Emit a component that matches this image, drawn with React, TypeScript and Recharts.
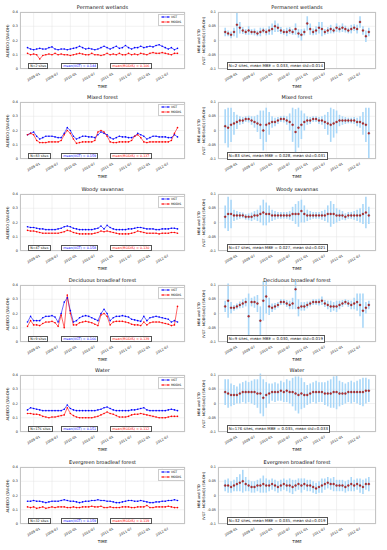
import React from "react";
import {
  ComposedChart,
  Line,
  Scatter,
  ErrorBar,
  XAxis,
  YAxis,
  CartesianGrid,
} from "recharts";

// monthly samples, Nov 2008 .. Dec 2012
const DATES = [
  "2008-11", "2008-12",
  "2009-01", "2009-02", "2009-03", "2009-04", "2009-05", "2009-06", "2009-07", "2009-08", "2009-09", "2009-10", "2009-11", "2009-12",
  "2010-01", "2010-02", "2010-03", "2010-04", "2010-05", "2010-06", "2010-07", "2010-08", "2010-09", "2010-10", "2010-11", "2010-12",
  "2011-01", "2011-02", "2011-03", "2011-04", "2011-05", "2011-06", "2011-07", "2011-08", "2011-09", "2011-10", "2011-11", "2011-12",
  "2012-01", "2012-02", "2012-03", "2012-04", "2012-05", "2012-06", "2012-07", "2012-08", "2012-09", "2012-10", "2012-11", "2012-12",
];
const TICK_LABELS = ["2009-01", "2009-07", "2010-01", "2010-07", "2011-01", "2011-07", "2012-01", "2012-07"];

const TITLES = ["Permanent wetlands", "Mixed forest", "Woody savannas", "Deciduous broadleaf forest", "Water", "Evergreen broadleaf forest"];
const SITES = [2, 83, 47, 9, 176, 32];
const MEAN_VGT = ["0.144", "0.159", "0.158", "0.166", "0.151", "0.159"];
const MEAN_MODIS = ["0.106", "0.137", "0.130", "0.139", "0.112", "0.119"];
const MEAN_MBE = ["0.033", "0.028", "0.027", "0.030", "0.035", "0.035"];
const MEAN_STD = ["0.014", "0.031", "0.021", "0.019", "0.033", "0.019"];

// Permanent wetlands
const VGT_WETLANDS = [
  0.15, 0.14, 0.135, 0.14, 0.145, 0.14, 0.14, 0.15, 0.155, 0.14,
  0.135, 0.14, 0.14, 0.135, 0.14, 0.145, 0.15, 0.16, 0.15, 0.14,
  0.145, 0.14, 0.135, 0.14, 0.15, 0.16, 0.15, 0.14, 0.15, 0.16,
  0.145, 0.15, 0.165, 0.15, 0.14, 0.15, 0.15, 0.16, 0.15, 0.155,
  0.16, 0.155, 0.165, 0.17, 0.16, 0.15, 0.14, 0.15, 0.135, 0.145,
];
const MODIS_WETLANDS = [
  0.11, 0.10, 0.105, 0.10, 0.07, 0.095, 0.10, 0.105, 0.10, 0.11,
  0.10, 0.105, 0.10, 0.10, 0.095, 0.10, 0.105, 0.11, 0.105, 0.10,
  0.10, 0.11, 0.10, 0.10, 0.095, 0.10, 0.11, 0.10, 0.105, 0.10,
  0.11, 0.10, 0.10, 0.11, 0.10, 0.105, 0.10, 0.11, 0.105, 0.10,
  0.11, 0.115, 0.11, 0.11, 0.115, 0.11, 0.105, 0.10, 0.11, 0.11,
];
const MBE_WETLANDS = [
  0.03, 0.025, 0.02, 0.03, 0.055, 0.045, 0.035, 0.03, 0.035, 0.03,
  0.03, 0.025, 0.03, 0.035, 0.03, 0.035, 0.04, 0.05, 0.045, 0.035,
  0.03, 0.03, 0.035, 0.03, 0.04, 0.025, 0.02, 0.03, 0.06, 0.04,
  0.03, 0.035, 0.045, 0.04, 0.03, 0.035, 0.04, 0.035, 0.045, 0.04,
  0.045, 0.04, 0.035, 0.04, 0.045, 0.04, 0.065, 0.035, 0.015, 0.03,
];
const STD_WETLANDS = [
  0.015, 0.01, 0.012, 0.015, 0.045, 0.02, 0.012, 0.01, 0.015, 0.01,
  0.012, 0.01, 0.015, 0.01, 0.012, 0.015, 0.02, 0.02, 0.015, 0.012,
  0.01, 0.015, 0.012, 0.01, 0.02, 0.015, 0.02, 0.012, 0.025, 0.02,
  0.012, 0.015, 0.02, 0.025, 0.01, 0.012, 0.015, 0.01, 0.015, 0.012,
  0.015, 0.012, 0.01, 0.015, 0.012, 0.015, 0.02, 0.015, 0.02, 0.015,
];

// Mixed forest
const VGT_MIXED = [
  0.17, 0.18, 0.19, 0.16, 0.14, 0.15, 0.16, 0.16, 0.16, 0.155,
  0.15, 0.15, 0.18, 0.22, 0.20, 0.16, 0.14, 0.15, 0.16, 0.16,
  0.155, 0.155, 0.15, 0.17, 0.19, 0.18, 0.17, 0.15, 0.14, 0.15,
  0.16, 0.155, 0.155, 0.15, 0.15, 0.16, 0.18, 0.17, 0.16, 0.14,
  0.15, 0.16, 0.16, 0.155, 0.155, 0.155, 0.15, 0.15, 0.17, 0.155,
];
const MODIS_MIXED = [
  0.17, 0.18, 0.17, 0.13, 0.115, 0.115, 0.115, 0.12, 0.12, 0.12,
  0.12, 0.13, 0.17, 0.20, 0.18, 0.14, 0.11, 0.115, 0.12, 0.12,
  0.12, 0.12, 0.13, 0.19, 0.20, 0.19, 0.16, 0.12, 0.115, 0.115,
  0.12, 0.12, 0.12, 0.12, 0.13, 0.16, 0.17, 0.15, 0.12, 0.115,
  0.12, 0.12, 0.12, 0.12, 0.12, 0.12, 0.12, 0.13, 0.18, 0.22,
];
const MBE_MIXED = [
  0.015, 0.01, 0.02, 0.025, 0.03, 0.035, 0.035, 0.04, 0.04, 0.035,
  0.03, 0.025, 0.02, 0.0, 0.02, 0.025, 0.03, 0.03, 0.035, 0.04,
  0.04, 0.035, 0.03, 0.02, -0.005, 0.01, 0.02, 0.03, 0.035, 0.035,
  0.04, 0.04, 0.035, 0.035, 0.03, 0.025, 0.02, 0.025, 0.03, 0.035,
  0.035, 0.035, 0.035, 0.035, 0.035, 0.03, 0.03, 0.025, 0.02, -0.01,
];
const STD_MIXED = [
  0.06, 0.07, 0.06, 0.04, 0.025, 0.015, 0.012, 0.01, 0.012, 0.015,
  0.02, 0.03, 0.05, 0.07, 0.06, 0.04, 0.02, 0.015, 0.012, 0.01,
  0.012, 0.015, 0.03, 0.06, 0.08, 0.07, 0.05, 0.03, 0.015, 0.012,
  0.01, 0.01, 0.012, 0.015, 0.025, 0.04, 0.06, 0.05, 0.04, 0.02,
  0.015, 0.012, 0.01, 0.01, 0.012, 0.015, 0.02, 0.04, 0.06, 0.09,
];

// Woody savannas
const VGT_WOODY = [
  0.17, 0.165, 0.165, 0.16, 0.155, 0.155, 0.15, 0.15, 0.15, 0.15,
  0.155, 0.16, 0.17, 0.175, 0.17, 0.16, 0.155, 0.15, 0.15, 0.15,
  0.15, 0.15, 0.155, 0.16, 0.175, 0.155, 0.18, 0.165, 0.155, 0.15,
  0.15, 0.15, 0.15, 0.155, 0.155, 0.16, 0.165, 0.165, 0.16, 0.155,
  0.155, 0.155, 0.15, 0.15, 0.155, 0.155, 0.155, 0.16, 0.16, 0.155,
];
const MODIS_WOODY = [
  0.145, 0.14, 0.14, 0.135, 0.13, 0.125, 0.125, 0.125, 0.125, 0.125,
  0.125, 0.13, 0.135, 0.145, 0.14, 0.13, 0.125, 0.12, 0.12, 0.12,
  0.12, 0.12, 0.125, 0.13, 0.14, 0.135, 0.14, 0.135, 0.13, 0.125,
  0.12, 0.12, 0.12, 0.12, 0.125, 0.13, 0.14, 0.135, 0.13, 0.125,
  0.125, 0.125, 0.125, 0.12, 0.125, 0.125, 0.125, 0.13, 0.13, 0.125,
];
const MBE_WOODY = [
  0.02, 0.03, 0.03, 0.025, 0.025, 0.025, 0.025, 0.02, 0.02, 0.02,
  0.025, 0.025, 0.03, 0.035, 0.03, 0.03, 0.025, 0.025, 0.025, 0.025,
  0.025, 0.025, 0.025, 0.03, 0.03, 0.03, 0.04, 0.03, 0.025, 0.025,
  0.025, 0.025, 0.025, 0.025, 0.025, 0.03, 0.03, 0.03, 0.025, 0.025,
  0.025, 0.02, 0.025, 0.025, 0.025, 0.025, 0.025, 0.03, 0.035, 0.025,
];
const STD_WOODY = [
  0.04, 0.06, 0.05, 0.02, 0.015, 0.012, 0.01, 0.01, 0.012, 0.015,
  0.015, 0.02, 0.03, 0.045, 0.04, 0.03, 0.02, 0.015, 0.012, 0.012,
  0.012, 0.012, 0.015, 0.025, 0.035, 0.045, 0.04, 0.03, 0.02, 0.015,
  0.012, 0.012, 0.012, 0.015, 0.02, 0.03, 0.045, 0.035, 0.025, 0.02,
  0.015, 0.012, 0.012, 0.012, 0.015, 0.02, 0.025, 0.035, 0.055, 0.03,
];

// Deciduous broadleaf forest
const VGT_DECID = [
  0.14, 0.18, 0.15, 0.15, 0.15, 0.17, 0.18, 0.18, 0.185, 0.175,
  0.14, 0.20, 0.28, 0.31, 0.22, 0.14, 0.15, 0.17, 0.18, 0.185,
  0.18, 0.17, 0.16, 0.15, 0.20, 0.23, 0.20, 0.15, 0.17, 0.18,
  0.18, 0.185, 0.18, 0.175, 0.16, 0.155, 0.15, 0.145, 0.18, 0.15,
  0.17, 0.175, 0.18, 0.175, 0.17, 0.165, 0.16, 0.14, 0.15, 0.14,
];
const MODIS_DECID = [
  0.11, 0.15, 0.12, 0.12, 0.115, 0.13, 0.14, 0.14, 0.145, 0.135,
  0.11, 0.19, 0.10, 0.33, 0.20, 0.12, 0.12, 0.135, 0.14, 0.145,
  0.14, 0.135, 0.125, 0.115, 0.19, 0.20, 0.18, 0.12, 0.14, 0.145,
  0.145, 0.145, 0.14, 0.135, 0.125, 0.12, 0.12, 0.115, 0.14, 0.12,
  0.135, 0.14, 0.14, 0.14, 0.135, 0.13, 0.125, 0.115, 0.12, 0.25,
];
const MBE_DECID = [
  0.025, 0.045, 0.02, 0.02, 0.025, 0.03, 0.035, 0.04, -0.01, 0.04,
  0.04, 0.035, -0.025, 0.045, 0.06, 0.025, 0.02, 0.025, 0.03, 0.04,
  0.04, 0.035, 0.03, 0.035, 0.085, 0.02, 0.025, 0.025, 0.03, 0.035,
  0.04, 0.04, 0.04, 0.045, 0.035, 0.03, 0.025, 0.025, 0.025, 0.03,
  0.035, 0.04, 0.035, 0.03, 0.035, 0.04, 0.03, 0.01, 0.02, 0.03,
];
const STD_DECID = [
  0.02, 0.06, 0.02, 0.01, 0.01, 0.012, 0.015, 0.015, 0.08, 0.015,
  0.02, 0.03, 0.05, 0.07, 0.06, 0.03, 0.015, 0.012, 0.01, 0.01,
  0.01, 0.012, 0.015, 0.02, 0.07, 0.03, 0.015, 0.015, 0.012, 0.01,
  0.01, 0.01, 0.012, 0.015, 0.012, 0.015, 0.02, 0.015, 0.02, 0.015,
  0.012, 0.01, 0.012, 0.015, 0.02, 0.03, 0.04, 0.06, 0.02, 0.015,
];

// Water
const VGT_WATER = [
  0.155, 0.17, 0.165, 0.16, 0.155, 0.15, 0.15, 0.15, 0.15, 0.15,
  0.15, 0.15, 0.16, 0.19, 0.165, 0.155, 0.15, 0.15, 0.15, 0.15,
  0.15, 0.15, 0.15, 0.155, 0.16, 0.17, 0.175, 0.165, 0.155, 0.15,
  0.15, 0.15, 0.15, 0.15, 0.155, 0.155, 0.16, 0.165, 0.17, 0.155,
  0.15, 0.15, 0.15, 0.15, 0.15, 0.15, 0.155, 0.16, 0.155, 0.15,
];
const MODIS_WATER = [
  0.13, 0.13, 0.125, 0.125, 0.12, 0.11, 0.105, 0.10, 0.105, 0.105,
  0.11, 0.115, 0.12, 0.17, 0.13, 0.115, 0.105, 0.10, 0.10, 0.10,
  0.10, 0.10, 0.105, 0.11, 0.12, 0.13, 0.14, 0.13, 0.125, 0.115,
  0.105, 0.105, 0.105, 0.11, 0.12, 0.125, 0.125, 0.13, 0.125, 0.12,
  0.115, 0.11, 0.105, 0.10, 0.10, 0.10, 0.105, 0.11, 0.11, 0.11,
];
const MBE_WATER = [
  0.04, 0.035, 0.03, 0.03, 0.03, 0.035, 0.04, 0.04, 0.04, 0.04,
  0.04, 0.035, 0.035, 0.02, 0.03, 0.035, 0.04, 0.04, 0.04, 0.045,
  0.04, 0.045, 0.04, 0.04, 0.035, 0.03, 0.035, 0.03, 0.03, 0.035,
  0.04, 0.04, 0.04, 0.04, 0.035, 0.035, 0.035, 0.04, 0.04, 0.035,
  0.035, 0.035, 0.04, 0.04, 0.04, 0.04, 0.04, 0.04, 0.045, 0.045,
];
const STD_WATER = [
  0.045, 0.05, 0.04, 0.035, 0.03, 0.035, 0.035, 0.04, 0.035, 0.04,
  0.045, 0.05, 0.07, 0.065, 0.045, 0.035, 0.03, 0.035, 0.03, 0.035,
  0.035, 0.04, 0.04, 0.05, 0.06, 0.065, 0.055, 0.045, 0.035, 0.035,
  0.035, 0.04, 0.035, 0.035, 0.04, 0.045, 0.05, 0.055, 0.06, 0.045,
  0.04, 0.035, 0.035, 0.04, 0.035, 0.04, 0.045, 0.05, 0.045, 0.04,
];

// Evergreen broadleaf forest
const VGT_EVERGREEN = [
  0.16, 0.16, 0.165, 0.16, 0.16, 0.155, 0.15, 0.155, 0.16, 0.16,
  0.16, 0.165, 0.17, 0.165, 0.16, 0.16, 0.155, 0.15, 0.155, 0.16,
  0.16, 0.165, 0.165, 0.17, 0.165, 0.165, 0.16, 0.16, 0.155, 0.15,
  0.15, 0.155, 0.16, 0.165, 0.165, 0.16, 0.16, 0.165, 0.16, 0.155,
  0.15, 0.15, 0.155, 0.155, 0.16, 0.16, 0.165, 0.165, 0.17, 0.165,
];
const MODIS_EVERGREEN = [
  0.12, 0.115, 0.12, 0.11, 0.115, 0.12, 0.11, 0.115, 0.12, 0.115,
  0.12, 0.12, 0.12, 0.115, 0.115, 0.12, 0.115, 0.115, 0.12, 0.12,
  0.12, 0.125, 0.12, 0.12, 0.125, 0.115, 0.115, 0.12, 0.115, 0.115,
  0.115, 0.12, 0.12, 0.12, 0.115, 0.115, 0.12, 0.12, 0.12, 0.13,
  0.115, 0.115, 0.12, 0.12, 0.12, 0.12, 0.125, 0.12, 0.115, 0.115,
];
const MBE_EVERGREEN = [
  0.035, 0.035, 0.03, 0.035, 0.04, 0.045, 0.05, 0.04, 0.035, 0.03,
  0.03, 0.035, 0.035, 0.04, 0.035, 0.035, 0.04, 0.035, 0.03, 0.035,
  0.04, 0.035, 0.035, 0.03, 0.035, 0.04, 0.035, 0.04, 0.035, 0.035,
  0.03, 0.025, 0.03, 0.035, 0.04, 0.045, 0.04, 0.04, 0.035, 0.035,
  0.035, 0.03, 0.035, 0.04, 0.035, 0.04, 0.035, 0.03, 0.04, 0.04,
];
const STD_EVERGREEN = [
  0.02, 0.025, 0.02, 0.02, 0.025, 0.03, 0.04, 0.025, 0.02, 0.02,
  0.02, 0.02, 0.025, 0.03, 0.025, 0.02, 0.02, 0.02, 0.02, 0.02,
  0.02, 0.02, 0.025, 0.025, 0.02, 0.02, 0.025, 0.02, 0.02, 0.02,
  0.02, 0.02, 0.02, 0.025, 0.02, 0.02, 0.02, 0.025, 0.02, 0.02,
  0.02, 0.02, 0.02, 0.025, 0.02, 0.02, 0.025, 0.025, 0.02, 0.025,
];

const VGT = [VGT_WETLANDS, VGT_MIXED, VGT_WOODY, VGT_DECID, VGT_WATER, VGT_EVERGREEN];
const MODIS = [MODIS_WETLANDS, MODIS_MIXED, MODIS_WOODY, MODIS_DECID, MODIS_WATER, MODIS_EVERGREEN];
const MBE = [MBE_WETLANDS, MBE_MIXED, MBE_WOODY, MBE_DECID, MBE_WATER, MBE_EVERGREEN];
const STD = [STD_WETLANDS, STD_MIXED, STD_WOODY, STD_DECID, STD_WATER, STD_EVERGREEN];

// layout
const FONT = "'DejaVu Sans', sans-serif";
const BLUE = "#0000ff";
const RED = "#ff0000";
const DOT = "#c0282d";
const BAR = "#a9d7f8";
const ROW_TOPS = [12, 102, 194, 285, 375, 467];
const PLOT_H = 57;
const MT = 4;
const XH = 16;
const X_DOMAIN = [-4.45, 49.45];
const L_LEFT = 20, L_W = 165;
const R_LEFT = 218, R_W = 158;

const toMonth = (s: string) => (Number(s.slice(0, 4)) - 2009) * 12 + Number(s.slice(5, 7)) - 1;
const TICK_POS = TICK_LABELS.map(toMonth);

const TimeTick = (props: any) => {
  const { x, y, payload } = props;
  const i = TICK_POS.indexOf(payload.value);
  const cy = y + 8;
  return (
    <text
      x={x}
      y={cy}
      textAnchor="middle"
      dominantBaseline="central"
      fontSize={3.4}
      fill="#222"
      fontFamily={FONT}
      transform={`rotate(-30 ${x} ${cy})`}
    >
      {TICK_LABELS[i]}
    </text>
  );
};

const tickStyle = { fontSize: 3.4, fill: "#222", fontFamily: FONT };

const boxStyle = (left: number, top: number, color: string, size: number): React.CSSProperties => ({
  position: "absolute",
  left,
  top,
  fontSize: size,
  lineHeight: `${size + 1.6}px`,
  padding: "0 1.2px",
  border: "0.6px solid #555",
  background: "#fff",
  color,
  fontFamily: FONT,
  whiteSpace: "nowrap",
});

function Frame({ left, top, width }: { left: number; top: number; width: number }) {
  return (
    <div
      style={{
        position: "absolute",
        left,
        top,
        width,
        height: PLOT_H,
        border: "0.6px solid #c4c4c4",
        boxSizing: "border-box",
        pointerEvents: "none",
      }}
    />
  );
}

function Title({ left, width, top, text }: { left: number; width: number; top: number; text: string }) {
  return (
    <div
      style={{
        position: "absolute",
        left,
        width,
        top: top - 8.5,
        height: 7,
        lineHeight: "7px",
        fontSize: 5,
        textAlign: "center",
        fontFamily: FONT,
        color: "#111",
        whiteSpace: "nowrap",
      }}
    >
      {text}
    </div>
  );
}

function LeftPanel({ row }: { row: number }) {
  const top = ROW_TOPS[row];
  const data = DATES.map((d, i) => ({ t: toMonth(d), vgt: VGT[row][i], modis: MODIS[row][i] }));
  const bottom = top + PLOT_H;
  return (
    <>
      <div style={{ position: "absolute", left: 0, top: top - MT }}>
        <ComposedChart
          width={L_LEFT + L_W + 5}
          height={MT + PLOT_H + XH}
          data={data}
          margin={{ top: MT, right: 5, bottom: 0, left: 0 }}
        >
          <CartesianGrid stroke="#e4e4e4" strokeWidth={0.5} />
          <XAxis
            dataKey="t"
            type="number"
            domain={X_DOMAIN}
            ticks={TICK_POS}
            interval={0}
            height={XH}
            tick={<TimeTick />}
            tickLine={false}
            axisLine={false}
            tickSize={0}
            tickMargin={0}
            allowDataOverflow
          />
          <YAxis
            type="number"
            domain={[0, 0.4]}
            ticks={[0, 0.1, 0.2, 0.3, 0.4]}
            width={L_LEFT}
            tick={tickStyle}
            tickLine={false}
            axisLine={false}
            tickSize={1}
            tickMargin={1}
            interval={0}
          />
          <Line
            dataKey="vgt"
            stroke={BLUE}
            strokeWidth={0.6}
            dot={{ r: 0.8, fill: BLUE, stroke: "none" }}
            activeDot={false}
            isAnimationActive={false}
          />
          <Line
            dataKey="modis"
            stroke={RED}
            strokeWidth={0.6}
            dot={{ r: 0.8, fill: RED, stroke: "none" }}
            activeDot={false}
            isAnimationActive={false}
          />
        </ComposedChart>
      </div>
      <Frame left={L_LEFT} top={top} width={L_W} />
      <Title left={L_LEFT} width={L_W} top={top} text={TITLES[row]} />
      <div
        style={{
          position: "absolute",
          left: 7.5 - 35,
          top: top + PLOT_H / 2 - 3,
          width: 70,
          height: 6,
          lineHeight: "6px",
          fontSize: 3.8,
          textAlign: "center",
          transform: "rotate(-90deg)",
          fontFamily: FONT,
          color: "#111",
        }}
      >
        ALBEDO (SW-DH)
      </div>
      <div
        style={{
          position: "absolute",
          left: L_LEFT + L_W - 27,
          top: top + 1.5,
          width: 25,
          padding: "0.8px 0",
          border: "0.5px solid #ccc",
          background: "#fff",
          fontFamily: FONT,
          fontSize: 3,
          lineHeight: "4.2px",
        }}
      >
        {[
          ["VGT", BLUE],
          ["MODIS", RED],
        ].map(([name, color]) => (
          <div key={name} style={{ display: "flex", alignItems: "center" }}>
            <svg width={9} height={4} style={{ marginLeft: 1.5, marginRight: 1.5 }}>
              <line x1={0} y1={2} x2={9} y2={2} stroke={color} strokeWidth={0.6} />
              <circle cx={2} cy={2} r={0.8} fill={color} />
              <circle cx={7} cy={2} r={0.8} fill={color} />
            </svg>
            <span>{name}</span>
          </div>
        ))}
      </div>
      <div style={boxStyle(28, bottom - 6.5, "#111", 3.3)}>N={SITES[row]} sites</div>
      <div style={boxStyle(61, bottom - 6.5, BLUE, 3.3)}>mean(VGT) = {MEAN_VGT[row]}</div>
      <div style={boxStyle(110, bottom - 6.5, RED, 3.3)}>mean(MODIS) = {MEAN_MODIS[row]}</div>
      <div
        style={{
          position: "absolute",
          left: L_LEFT,
          width: L_W,
          top: bottom + 14.5,
          fontSize: 4,
          lineHeight: "5px",
          textAlign: "center",
          fontFamily: FONT,
          color: "#111",
        }}
      >
        TIME
      </div>
    </>
  );
}

function RightPanel({ row }: { row: number }) {
  const top = ROW_TOPS[row];
  const data = DATES.map((d, i) => ({ t: toMonth(d), mbe: MBE[row][i], std: STD[row][i] }));
  const bottom = top + PLOT_H;
  const chartLeft = 190;
  return (
    <>
      <div style={{ position: "absolute", left: chartLeft, top: top - MT }}>
        <ComposedChart
          width={R_LEFT - chartLeft + R_W + 4}
          height={MT + PLOT_H + XH}
          data={data}
          margin={{ top: MT, right: 4, bottom: 0, left: 0 }}
        >
          <CartesianGrid stroke="#e4e4e4" strokeWidth={0.5} />
          <XAxis
            dataKey="t"
            type="number"
            domain={X_DOMAIN}
            ticks={TICK_POS}
            interval={0}
            height={XH}
            tick={<TimeTick />}
            tickLine={false}
            axisLine={false}
            tickSize={0}
            tickMargin={0}
            allowDataOverflow
          />
          <YAxis
            type="number"
            domain={[-0.1, 0.1]}
            ticks={[-0.1, -0.05, 0, 0.05, 0.1]}
            width={R_LEFT - chartLeft}
            tick={tickStyle}
            tickLine={false}
            axisLine={false}
            tickSize={1}
            tickMargin={1}
            interval={0}
            allowDataOverflow
          />
          <Scatter dataKey="mbe" shape={() => <g />} isAnimationActive={false}>
            <ErrorBar dataKey="std" direction="y" width={0} stroke={BAR} strokeWidth={1.6} />
          </Scatter>
          <Scatter
            dataKey="mbe"
            isAnimationActive={false}
            shape={(p: any) => (
              <circle cx={p.cx} cy={p.cy} r={1} fill={DOT} stroke="#5a0a0a" strokeWidth={0.3} />
            )}
          />
        </ComposedChart>
      </div>
      <Frame left={R_LEFT} top={top} width={R_W} />
      <Title left={R_LEFT} width={R_W} top={top} text={TITLES[row]} />
      <div
        style={{
          position: "absolute",
          left: 202 - 35,
          top: top + PLOT_H / 2 - 5,
          width: 70,
          height: 10,
          lineHeight: "5px",
          fontSize: 3.5,
          textAlign: "center",
          transform: "rotate(-90deg)",
          fontFamily: FONT,
          color: "#111",
          whiteSpace: "nowrap",
        }}
      >
        <div>MBE and STD</div>
        <div>(VGT - MODIS(v6)) (SW-DH)</div>
      </div>
      <div style={boxStyle(226.5, bottom - 7, "#111", 3.9)}>
        N={SITES[row]} sites, mean MBE = {MEAN_MBE[row]}, mean std={MEAN_STD[row]}
      </div>
      <div
        style={{
          position: "absolute",
          left: R_LEFT,
          width: R_W,
          top: bottom + 14.5,
          fontSize: 4,
          lineHeight: "5px",
          textAlign: "center",
          fontFamily: FONT,
          color: "#111",
        }}
      >
        TIME
      </div>
    </>
  );
}

export default function App() {
  return (
    <div
      style={{
        position: "absolute",
        left: 0,
        top: 0,
        width: 387,
        height: 550,
        background: "#fff",
        overflow: "hidden",
      }}
    >
      {TITLES.map((_, row) => (
        <React.Fragment key={row}>
          <LeftPanel row={row} />
          <RightPanel row={row} />
        </React.Fragment>
      ))}
    </div>
  );
}
